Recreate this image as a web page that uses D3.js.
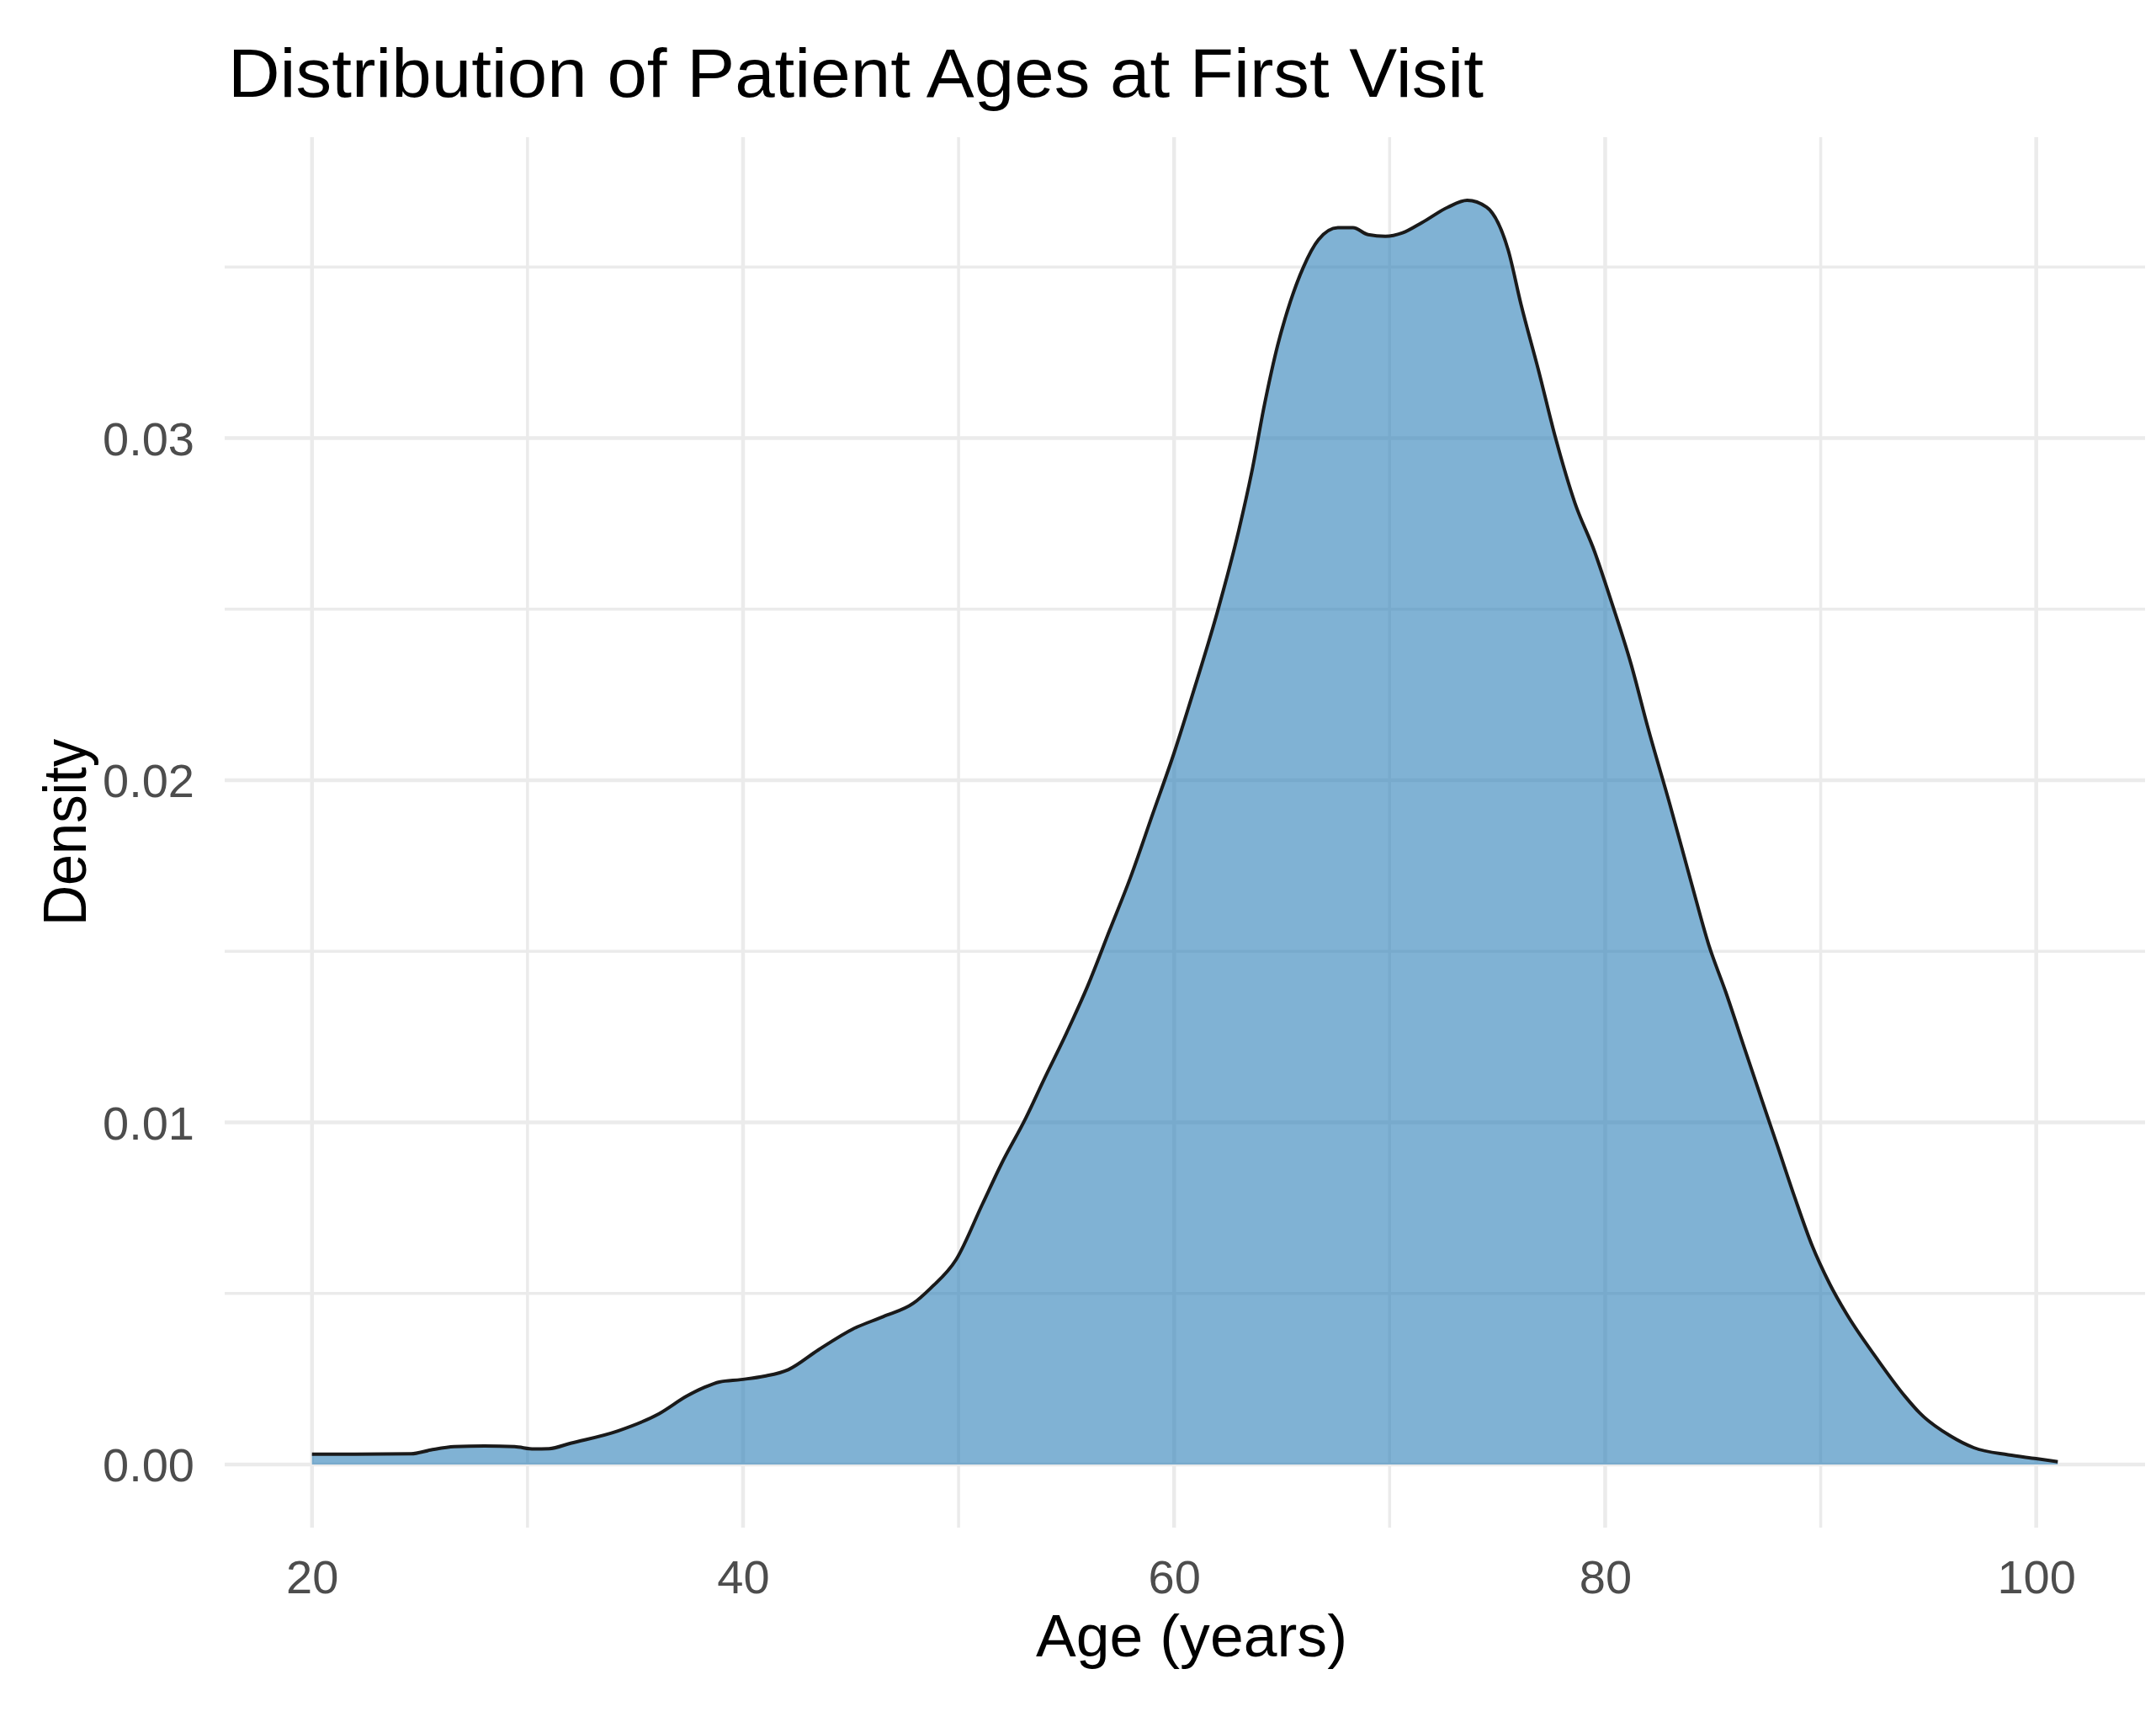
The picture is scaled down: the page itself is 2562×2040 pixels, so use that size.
<!DOCTYPE html>
<html>
<head>
<meta charset="utf-8">
<script src="https://cdn.jsdelivr.net/npm/d3@7"></script>
<style>
  html, body { margin: 0; padding: 0; background: #fff; }
  svg { display: block; font-family: "Liberation Sans", Arial, sans-serif; }
</style>
</head>
<body>
<svg id="chart" width="2562" height="2040"></svg>
<script>
// estimated density curve
var ages = [20, 22, 24.6, 25.5, 26.6, 28, 29.4, 30.3, 31, 32, 34.2, 36.1, 37.4, 38.2, 38.9, 39.9,
  41, 42.1, 43.5, 45.1, 46.5, 47.9, 48.7, 49.9, 51.1, 52, 53.1, 54, 55, 56, 57, 58,
  59, 60, 61, 62, 63, 63.6, 64.2, 64.8, 65.4, 66, 66.7, 67.6, 68.3, 69, 69.8, 70.6, 71.5, 72.7,
  73.6, 74.5, 75.5, 76.1, 76.9, 77.7, 78.6, 79.5, 80.3, 81.2, 82, 83, 84, 84.8, 85.6,
  86.5, 87.3, 88, 88.8, 89.6, 90.4, 91.2, 92.6, 93.9, 94.6, 96, 97.1, 98.7, 100, 101];
var density = [0.0003, 0.0003, 0.00031, 0.00042, 0.00052, 0.00054, 0.00052, 0.00045, 0.00046, 0.00062,
  0.00098, 0.00148, 0.002, 0.00225, 0.00241, 0.00248,
  0.00258, 0.00277, 0.00335, 0.00396, 0.00432, 0.00471, 0.00515, 0.006, 0.0076, 0.0088, 0.0101, 0.0113,
  0.0126, 0.014, 0.0156, 0.0172,
  0.019, 0.0208, 0.0228, 0.0249, 0.0273, 0.029, 0.031, 0.0327, 0.034, 0.035, 0.0358, 0.03615, 0.03615,
  0.03595, 0.0359, 0.036, 0.0363, 0.03675,
  0.03695, 0.03675, 0.0355, 0.0339, 0.032, 0.03, 0.0281, 0.0267, 0.0252, 0.0234, 0.0215, 0.0193,
  0.017, 0.0152, 0.0138,
  0.0121, 0.0106, 0.0093, 0.0078, 0.0064, 0.0053, 0.0044, 0.0031, 0.002, 0.0015, 0.00084, 0.00049,
  0.00028, 0.00017, 0.00008];

var ageTicks = [20, 40, 60, 80, 100];
var ageMinor = [30, 50, 70, 90];
var densityTicks = [0, 0.01, 0.02, 0.03];
var densityMinor = [0.005, 0.015, 0.025, 0.035];

var title = "Distribution of Patient Ages at First Visit";
var xTitle = "Age (years)";
var yTitle = "Density";

var points = ages.map(function(a, i) { return { age: a, d: density[i] }; });

var svg = d3.select("#chart");
var panel = { left: 267, right: 2549, top: 163, bottom: 1815 };

// ggplot-like 5% expansion
var xExt = d3.extent(ages), xPad = (xExt[1] - xExt[0]) * 0.05;
var yMax = d3.max(density), yPad = yMax * 0.05;

var x = d3.scaleLinear()
  .domain([xExt[0] - xPad, xExt[1] + xPad])
  .range([panel.left, panel.right]);

var y = d3.scaleLinear()
  .domain([0 - yPad, yMax + yPad])
  .range([panel.bottom, panel.top]);

var grid = svg.append("g").attr("class", "grid");

grid.selectAll(".hminor").data(densityMinor).enter().append("line")
  .attr("x1", panel.left).attr("x2", panel.right)
  .attr("y1", function(d) { return y(d); }).attr("y2", function(d) { return y(d); })
  .attr("stroke", "#ebebeb").attr("stroke-width", 3.5);

grid.selectAll(".vminor").data(ageMinor).enter().append("line")
  .attr("y1", panel.top).attr("y2", panel.bottom)
  .attr("x1", function(d) { return x(d); }).attr("x2", function(d) { return x(d); })
  .attr("stroke", "#ebebeb").attr("stroke-width", 3.5);

grid.selectAll(".hmajor").data(densityTicks).enter().append("line")
  .attr("x1", panel.left).attr("x2", panel.right)
  .attr("y1", function(d) { return y(d); }).attr("y2", function(d) { return y(d); })
  .attr("stroke", "#ebebeb").attr("stroke-width", 4.5);

grid.selectAll(".vmajor").data(ageTicks).enter().append("line")
  .attr("y1", panel.top).attr("y2", panel.bottom)
  .attr("x1", function(d) { return x(d); }).attr("x2", function(d) { return x(d); })
  .attr("stroke", "#ebebeb").attr("stroke-width", 4.5);

var area = d3.area()
  .x(function(d) { return x(d.age); })
  .y0(y(0))
  .y1(function(d) { return y(d.d); })
  .curve(d3.curveMonotoneX);

var line = d3.line()
  .x(function(d) { return x(d.age); })
  .y(function(d) { return y(d.d); })
  .curve(d3.curveMonotoneX);

svg.append("path")
  .datum(points)
  .attr("d", area)
  .attr("fill", "#2c7fb8")
  .attr("fill-opacity", 0.6);

svg.append("path")
  .datum(points)
  .attr("d", line)
  .attr("fill", "none")
  .attr("stroke", "#1a1a1a")
  .attr("stroke-width", 4)
  .attr("stroke-linejoin", "round");

// axes (text only, like theme_minimal)
var xAxis = svg.append("g")
  .attr("transform", "translate(0," + panel.bottom + ")")
  .call(d3.axisBottom(x).tickValues(ageTicks).tickSize(0).tickPadding(0).tickFormat(d3.format("d")));
xAxis.select(".domain").remove();
xAxis.selectAll("text")
  .attr("y", 78).attr("dy", null)
  .attr("font-size", 56).attr("fill", "#4d4d4d")
  .attr("font-family", "Liberation Sans, Arial, sans-serif");

var yAxis = svg.append("g")
  .attr("transform", "translate(231,0)")
  .call(d3.axisLeft(y).tickValues(densityTicks).tickSize(0).tickPadding(0).tickFormat(d3.format(".2f")));
yAxis.select(".domain").remove();
yAxis.selectAll("text")
  .attr("x", 0).attr("dy", "0.35em")
  .attr("font-size", 56).attr("fill", "#4d4d4d")
  .attr("font-family", "Liberation Sans, Arial, sans-serif");

svg.append("text")
  .attr("x", 271).attr("y", 115)
  .attr("font-size", 82).attr("fill", "#000")
  .attr("textLength", 1492).attr("lengthAdjust", "spacingAndGlyphs")
  .text(title);

svg.append("text")
  .attr("x", 1416).attr("y", 1968)
  .attr("text-anchor", "middle")
  .attr("font-size", 70).attr("fill", "#000")
  .attr("textLength", 370).attr("lengthAdjust", "spacingAndGlyphs")
  .text(xTitle);

svg.append("text")
  .attr("transform", "translate(102," + ((panel.top + panel.bottom) / 2) + ") rotate(-90)")
  .attr("text-anchor", "middle")
  .attr("font-size", 72).attr("fill", "#000")
  .attr("textLength", 222).attr("lengthAdjust", "spacingAndGlyphs")
  .text(yTitle);
</script>
</body>
</html>
